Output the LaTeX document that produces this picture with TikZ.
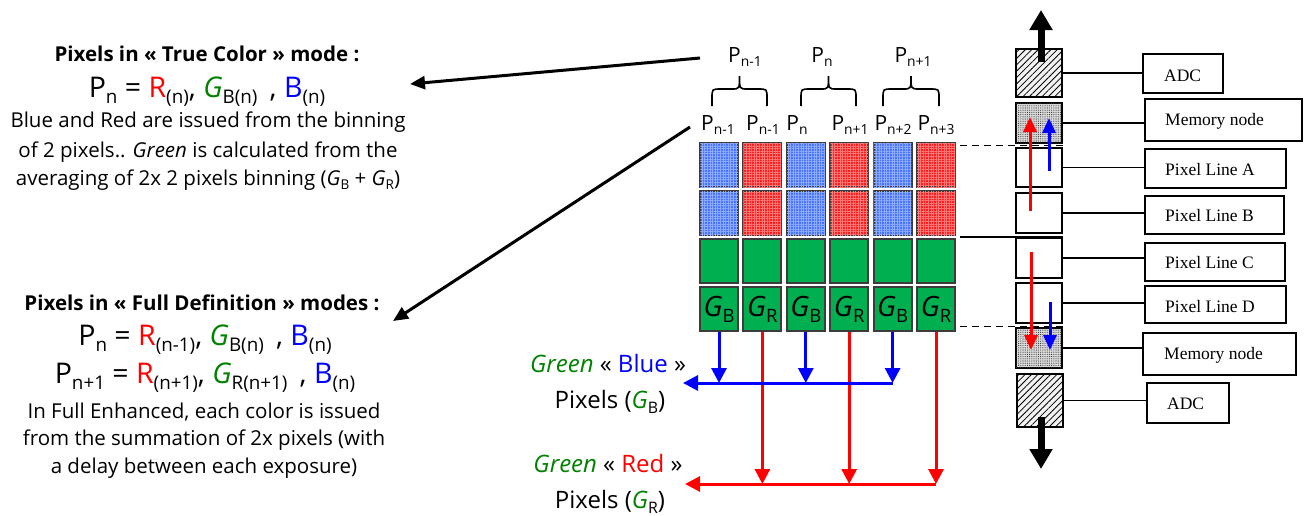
\documentclass[tikz,border=0pt]{standalone}
\usepackage{fontspec}
\usepackage{graphicx}
\setmainfont{Open Sans}
\newfontfamily\timesf{Liberation Serif}
\usetikzlibrary{arrows.meta,patterns,patterns.meta}
\definecolor{cblue}{RGB}{70,115,255}
\definecolor{cbluel}{RGB}{140,170,255}
\definecolor{cred}{RGB}{255,30,30}
\definecolor{credl}{RGB}{255,120,120}
\definecolor{cgreen}{RGB}{0,176,80}
\definecolor{cborder}{RGB}{60,60,60}
\definecolor{tred}{RGB}{255,0,0}
\definecolor{tgreen}{RGB}{0,130,0}
\definecolor{tblue}{RGB}{0,0,255}
\definecolor{lblue}{RGB}{0,0,255}
\definecolor{lred}{RGB}{255,0,0}
\newcommand{\sbx}[1]{\raisebox{-0.22em}{\scalebox{0.66}{#1}}}
\newcommand{\redtx}[1]{\textcolor{tred}{#1}}
\newcommand{\grntx}[1]{\textcolor{tgreen}{#1}}
\newcommand{\blutx}[1]{\textcolor{tblue}{#1}}
\newcommand{\fs}[1]{\fontsize{#1}{#1}\selectfont}
\tikzset{
  txt/.style={inner sep=0pt, font=\fs{20.5}},
  ttl/.style={inner sep=0pt, font=\fs{20.5}\bfseries},
  frm/.style={inner sep=0pt, font=\fs{28.5}},
  plab/.style={inner sep=0pt, font=\fs{21}},
  btxt/.style={inner sep=0pt, font=\fs{24}},
  cell/.style={draw=cborder, line width=2pt, minimum width=38pt, minimum height=44pt, inner sep=0pt},
  bcell/.style={cell, fill=cblue, postaction={pattern={Hatch[angle=0,distance=2.6pt,line width=0.5pt]}, pattern color=cbluel}},
  rcell/.style={cell, fill=cred, postaction={pattern={Hatch[angle=0,distance=2.6pt,line width=0.5pt]}, pattern color=credl}},
  gcell/.style={cell, fill=cgreen},
  gtext/.style={inner sep=0pt, font=\fs{28}},
  sbox/.style={draw=black, line width=1.5pt, minimum width=46pt, inner sep=0pt, fill=white},
  adcbox/.style={sbox, fill=gray!10, postaction={pattern={Lines[angle=45,distance=4.5pt,line width=0.8pt]}}},
  memb/.style={sbox, fill=gray!30, postaction={pattern={Dots[distance=2.2pt,radius=0.55pt]}, pattern color=black!80}},
  lbox/.style={draw=black, line width=1.5pt, inner sep=0pt},
  ltext/.style={inner sep=0pt, anchor=west, font=\timesf\fs{17.5}},
  link/.style={line width=1.2pt},
  bk/.style={line width=3pt, -{Triangle[width=13pt,length=15pt]}},
  barrow/.style={line width=3pt, color=lblue, -{Triangle[width=15pt,length=15pt]}},
  rarrow/.style={line width=3pt, color=lred, -{Triangle[width=15pt,length=15pt]}},
  bigarrow/.style={line width=7pt, -{Triangle[width=22pt,length=20pt]}},
  smallra/.style={line width=3pt, color=lred, -{Triangle[width=13pt,length=15pt]}},
  smallba/.style={line width=3pt, color=lblue, -{Triangle[width=13pt,length=15pt]}},
  brc/.style={line width=1.6pt}
}
\begin{document}
\begin{tikzpicture}[x=1pt,y=-1pt]
\useasboundingbox[fill=white] (0,0) rectangle (1309,515);

% ---------- left text block 1
\node[ttl] (t1) at (207,54) {Pixels in « True Color » mode :};
\node[frm] (f1) at (207,92) {P\sbx{n} = \redtx{R}\sbx{(n)}, \grntx{\textit{G}}\sbx{B(n)}\, , \blutx{B}\sbx{(n)}};
\node[txt] (l1) at (208,122) {Blue and Red are issued from the binning};
\node[txt] (l2) at (208,152) {of 2 pixels.. \textit{Green} is calculated from the};
\node[txt] (l3) at (208,180) {averaging of 2x 2 pixels binning (\textit{G}\sbx{B} + \textit{G}\sbx{R})};

% ---------- left text block 2
\node[ttl] (t2) at (202,303) {Pixels in « Full Definition » modes :};
\node[frm] (f2) at (205,340) {P\sbx{n} = \redtx{R}\sbx{(n-1)}, \grntx{\textit{G}}\sbx{B(n)}\, , \blutx{B}\sbx{(n)}};
\node[frm] (f3) at (205,378) {P\sbx{n+1} = \redtx{R}\sbx{(n+1)}, \grntx{\textit{G}}\sbx{R(n+1)}\, , \blutx{B}\sbx{(n)}};
\node[txt] (l4) at (204,412) {In Full Enhanced, each color is issued};
\node[txt] (l5) at (204,440) {from the summation of 2x pixels (with};
\node[txt] (l6) at (204,468) {a delay between each exposure)};

% ---------- grid of cells
\foreach \c in {1,...,6}{
  \pgfmathsetmacro{\xx}{719+43.4*(\c-1)}
  \pgfmathtruncatemacro{\odd}{mod(\c,2)}
  \ifnum\odd=1
    \node[bcell] (c-1-\c) at (\xx,165) {};
    \node[bcell] (c-2-\c) at (\xx,213) {};
    \node[gcell] (c-3-\c) at (\xx,261) {};
    \node[gcell] (c-4-\c) at (\xx,309) {};
    \node[gtext] (gt-\c) at (\xx,309) {\textit{G}\sbx{B}};
  \else
    \node[rcell] (c-1-\c) at (\xx,165) {};
    \node[rcell] (c-2-\c) at (\xx,213) {};
    \node[gcell] (c-3-\c) at (\xx,261) {};
    \node[gcell] (c-4-\c) at (\xx,309) {};
    \node[gtext] (gt-\c) at (\xx,309) {\textit{G}\sbx{R}};
  \fi
}

% ---------- column labels
\node[plab] (p1) at (718,125) {P\sbx{n-1}};
\node[plab] (p2) at (763,125) {P\sbx{n-1}};
\node[plab] (p3) at (797,125) {P\sbx{n}};
\node[plab] (p4) at (850,125) {P\sbx{n+1}};
\node[plab] (p5) at (893,125) {P\sbx{n+2}};
\node[plab] (p6) at (936,125) {P\sbx{n+3}};

% ---------- braces and group labels
\foreach \xa/\xb in {712/767, 801/856, 883/939}{
  \pgfmathsetmacro{\xm}{(\xa+\xb)/2}
  \draw[brc] (\xa,106) -- (\xa,98) .. controls (\xa,89) .. (\xa+9,89) -- (\xm-8,89) .. controls (\xm,89) .. (\xm,76)
             .. controls (\xm,89) .. (\xm+8,89) -- (\xb-9,89) .. controls (\xb,89) .. (\xb,98) -- (\xb,106);
}
\node[plab] (g1) at (745,57) {P\sbx{n-1}};
\node[plab] (g2) at (822,57) {P\sbx{n}};
\node[plab] (g3) at (913,57) {P\sbx{n+1}};

% ---------- pointing arrows to the text blocks
\coordinate (a1s) at (700,58);
\coordinate (a1e) at (410,84);
\coordinate (a2s) at (690,127);
\coordinate (a2e) at (393,321);
\draw[bk] (a1s) -- (a1e);
\draw[bk] (a2s) -- (a2e);

% ---------- output arrows
\coordinate (bh) at (892,383);
\coordinate (bend) at (683,383);
\coordinate (rh) at (936,484);
\coordinate (rend) at (685,484);
\foreach \c in {1,3,5}{ \draw[barrow] (c-4-\c.south) -- (c-4-\c.south |- bh); }
\foreach \c in {2,4,6}{ \draw[rarrow] (c-4-\c.south) -- (c-4-\c.south |- rh); }
\draw[barrow] (c-4-5.south |- bh) -- (bend);
\draw[rarrow] (c-4-6.south |- rh) -- (rend);

\node[btxt] (gb1) at (608,363) {\grntx{\textit{Green}} « \blutx{Blue} »};
\node[btxt] (gb2) at (610,402) {Pixels (\grntx{\textit{G}}\sbx{B})};
\node[btxt] (gr1) at (608,463) {\grntx{\textit{Green}} « \redtx{Red} »};
\node[btxt] (gr2) at (610,502) {Pixels (\grntx{\textit{G}}\sbx{R})};

% ---------- right column small boxes
\node[adcbox, minimum height=48pt] (s1) at (1039,73) {};
\node[memb, minimum height=40pt] (s2) at (1039,123) {};
\node[sbox, minimum height=39pt] (s3) at (1039,167.5) {};
\node[sbox, minimum height=40pt] (s4) at (1039,213) {};
\node[sbox, minimum height=40pt] (s5) at (1039,258) {};
\node[sbox, minimum height=40pt] (s6) at (1039,303) {};
\node[memb, minimum height=40pt] (s7) at (1039,348) {};
\node[adcbox, minimum height=53pt] (s8) at (1040,400.5) {};

% ---------- right column label boxes
\node[lbox, minimum width=80pt, minimum height=39pt] (b1) at (1183,73.5) {};
\node[lbox, minimum width=157pt, minimum height=42pt] (b2) at (1223.5,120) {};
\node[lbox, minimum width=141pt, minimum height=39pt] (b3) at (1215.5,168.5) {};
\node[lbox, minimum width=139pt, minimum height=38pt] (b4) at (1214.5,215) {};
\node[lbox, minimum width=140pt, minimum height=38pt] (b5) at (1215,262) {};
\node[lbox, minimum width=141pt, minimum height=37pt] (b6) at (1215.5,304.5) {};
\node[lbox, minimum width=153pt, minimum height=42pt] (b7) at (1219.5,354) {};
\node[lbox, minimum width=82pt, minimum height=40pt] (b8) at (1188,403) {};

\node[ltext] (x1) at (1164,76) {ADC};
\node[ltext] (x2) at (1165,121) {Memory node};
\node[ltext] (x3) at (1165,170) {Pixel Line A};
\node[ltext] (x4) at (1165,216) {Pixel Line B};
\node[ltext] (x5) at (1165,263) {Pixel Line C};
\node[ltext] (x6) at (1165,307) {Pixel Line D};
\node[ltext] (x7) at (1164,355) {Memory node};
\node[ltext] (x8) at (1167,404) {ADC};

\foreach \i in {1,...,8}{ \draw[link] (s\i.east) -- (s\i.east -| b\i.west); }

% ---------- dashed / solid guide lines
\coordinate (d1) at (960,145.5);
\coordinate (d2) at (960,237);
\coordinate (d3) at (960,326.5);
\draw[line width=1.3pt, dash pattern=on 7pt off 5pt] (d1) -- (d1 -| s3.east);
\draw[line width=1.3pt] (d2) -- (d2 -| s4.east);
\draw[line width=1.3pt, dash pattern=on 7pt off 5pt] (d3) -- (d3 -| s6.east);

% ---------- right column arrows
\coordinate (u1) at (1030,211);
\coordinate (u1e) at (1030,117);
\coordinate (u2) at (1049,171);
\coordinate (u2e) at (1049,118);
\coordinate (v1) at (1031,252);
\coordinate (v1e) at (1031,350);
\coordinate (v2) at (1050,302);
\coordinate (v2e) at (1050,350);
\draw[smallra] (u1) -- (u1e);
\draw[smallba] (u2) -- (u2e);
\draw[smallra] (v1) -- (v1e);
\draw[smallba] (v2) -- (v2e);

\coordinate (k1) at (1041,62);
\coordinate (k1e) at (1041,10);
\coordinate (k2) at (1041,417);
\coordinate (k2e) at (1041,469);
\draw[bigarrow] (k1) -- (k1e);
\draw[bigarrow] (k2) -- (k2e);
\end{tikzpicture}
\end{document}
